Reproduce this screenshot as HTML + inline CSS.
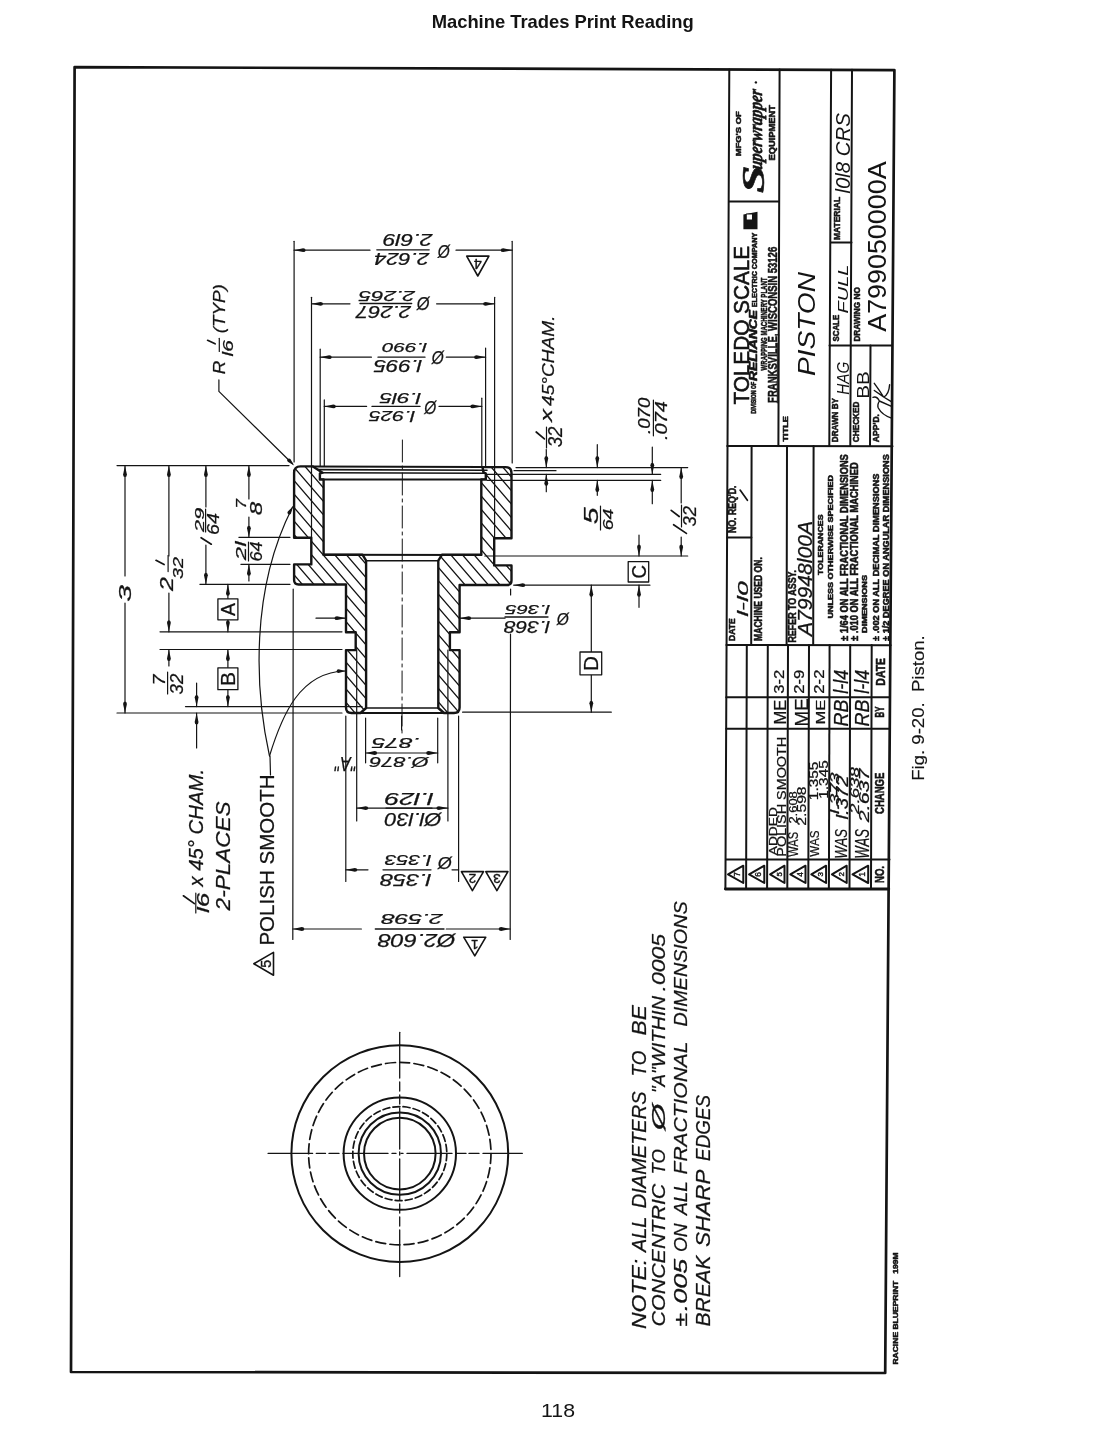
<!DOCTYPE html>
<html><head><meta charset="utf-8"><style>
html,body{margin:0;padding:0;background:#fff;}
svg{display:block;filter:grayscale(1);}
</style></head><body>
<svg width="1118" height="1452" viewBox="0 0 1118 1452" stroke="#141414" stroke-linecap="round" stroke-linejoin="round">
<rect width="1118" height="1452" fill="#fff" stroke="none"/>
<text transform="translate(431.7,27.8)" font-family="&quot;Liberation Sans&quot;, sans-serif" font-size="18.4" font-style="normal" font-weight="bold" textLength="262.0" lengthAdjust="spacing" fill="#141414" stroke="none" >Machine Trades Print Reading</text>
<text transform="translate(541.1,1417.2)" font-family="&quot;Liberation Sans&quot;, sans-serif" font-size="18.4" font-style="normal" font-weight="normal" textLength="34.0" lengthAdjust="spacingAndGlyphs" fill="#141414" stroke="none" >118</text>
<text transform="translate(924.2,780.8) rotate(-90)" font-family="&quot;Liberation Sans&quot;, sans-serif" font-size="16.1" font-style="normal" font-weight="normal" textLength="145.5" lengthAdjust="spacingAndGlyphs" fill="#141414" stroke="#141414" stroke-width="0.15" >Fig. 9-20.&#160; Piston.</text>
<path d="M74.6,67.1 L894.4,70.1 L885.2,1373 L71,1372 Z" fill="none" stroke-width="2.7" />
<line x1="729.3" y1="69.5" x2="725.4" y2="889.0" stroke-width="2.0" />
<line x1="779.6" y1="69.5" x2="778.4" y2="446.0" stroke-width="2.0" />
<line x1="831.1" y1="69.8" x2="829.3" y2="446.0" stroke-width="2.0" />
<line x1="852.0" y1="69.8" x2="850.3" y2="446.0" stroke-width="2.0" />
<line x1="870.5" y1="345.5" x2="870.0" y2="446.0" stroke-width="2.0" />
<line x1="729.0" y1="201.4" x2="779.0" y2="201.4" stroke-width="2.0" />
<line x1="831.0" y1="242.4" x2="851.5" y2="242.4" stroke-width="2.0" />
<line x1="829.5" y1="345.5" x2="891.5" y2="345.5" stroke-width="2.0" />
<line x1="727.2" y1="445.9" x2="892.5" y2="446.3" stroke-width="2.0" />
<line x1="751.6" y1="446.0" x2="751.2" y2="645.0" stroke-width="2.0" />
<line x1="787.0" y1="446.0" x2="786.6" y2="645.0" stroke-width="2.0" />
<line x1="813.6" y1="446.0" x2="813.2" y2="645.0" stroke-width="2.0" />
<line x1="727.2" y1="537.5" x2="751.4" y2="537.5" stroke-width="2.0" />
<line x1="726.4" y1="645.0" x2="890.7" y2="645.3" stroke-width="2.0" />
<line x1="746.8" y1="645.0" x2="746.1" y2="889.0" stroke-width="2.0" />
<line x1="767.8" y1="645.0" x2="767.1" y2="889.0" stroke-width="2.0" />
<line x1="788.0" y1="645.0" x2="787.3" y2="889.0" stroke-width="2.0" />
<line x1="809.0" y1="645.0" x2="808.3" y2="889.0" stroke-width="2.0" />
<line x1="829.6" y1="645.0" x2="828.9" y2="889.0" stroke-width="2.0" />
<line x1="850.2" y1="645.0" x2="849.5" y2="889.0" stroke-width="2.0" />
<line x1="871.7" y1="645.0" x2="871.0" y2="889.0" stroke-width="2.0" />
<line x1="726.2" y1="697.3" x2="889.5" y2="697.3" stroke-width="2.0" />
<line x1="726.2" y1="728.7" x2="889.5" y2="728.7" stroke-width="2.0" />
<line x1="726.2" y1="859.4" x2="889.5" y2="859.4" stroke-width="2.0" />
<line x1="725.4" y1="889.0" x2="888.8" y2="889.0" stroke-width="2.8" />
<defs><clipPath id="cl"><path d="M312.9,466.4 L300.5,466.4 Q294.1,466.4 294.1,472.8 L294.1,537.8 L311.3,537.8 L311.3,564.4 L294.1,564.4 L294.1,580 Q294.1,584.5 298.6,584.5 L346,584.5 L346,632.2 L355.7,632.2 L355.7,650.1 L346,650.1 L346,707.5 Q346,713 351.5,713 L360.5,713 L366.1,708 L366.1,560.7 L362.5,554.7 L323.6,554.7 L323.6,479.4 L319.9,479.4 L319.9,473.5 L322.6,472.7 Z"/></clipPath><clipPath id="cr"><path d="M482.5,467.1 L505.5,467.1 Q511.5,467.1 511.5,473 L511.5,538.3 L494.2,538.3 L494.2,565.4 L511.5,565.4 L511.5,580.5 Q511.5,585 507,585 L459.6,585 L459.6,632.2 L449.9,632.2 L449.9,650.1 L459.6,650.1 L459.6,707.5 Q459.6,713 454,713 L444,713 L438.3,708 L438.3,560.7 L442,554.7 L481.3,554.7 L481.3,479.4 L485.8,479.4 L485.8,473.5 L483.5,472.7 Z"/></clipPath></defs>
<path d="M-286.2,440 L-27.6,740 M-274.6,440 L-16.0,740 M-263.0,440 L-4.4,740 M-251.4,440 L7.2,740 M-239.8,440 L18.8,740 M-228.2,440 L30.4,740 M-216.6,440 L42.0,740 M-205.0,440 L53.6,740 M-193.4,440 L65.2,740 M-181.8,440 L76.8,740 M-170.2,440 L88.4,740 M-158.6,440 L100.0,740 M-147.0,440 L111.6,740 M-135.4,440 L123.2,740 M-123.8,440 L134.8,740 M-112.2,440 L146.4,740 M-100.6,440 L158.0,740 M-89.0,440 L169.6,740 M-77.4,440 L181.2,740 M-65.8,440 L192.8,740 M-54.2,440 L204.4,740 M-42.6,440 L216.0,740 M-31.0,440 L227.6,740 M-19.4,440 L239.2,740 M-7.8,440 L250.8,740 M3.8,440 L262.4,740 M15.4,440 L274.0,740 M27.0,440 L285.6,740 M38.6,440 L297.2,740 M50.2,440 L308.8,740 M61.8,440 L320.4,740 M73.4,440 L332.0,740 M85.0,440 L343.6,740 M96.6,440 L355.2,740 M108.2,440 L366.8,740 M119.8,440 L378.4,740 M131.4,440 L390.0,740 M143.0,440 L401.6,740 M154.6,440 L413.2,740 M166.2,440 L424.8,740 M177.8,440 L436.4,740 M189.4,440 L448.0,740 M201.0,440 L459.6,740 M212.6,440 L471.2,740 M224.2,440 L482.8,740 M235.8,440 L494.4,740 M247.4,440 L506.0,740 M259.0,440 L517.6,740 M270.6,440 L529.2,740 M282.2,440 L540.8,740 M293.8,440 L552.4,740 M305.4,440 L564.0,740 M317.0,440 L575.6,740 M328.6,440 L587.2,740 M340.2,440 L598.8,740 M351.8,440 L610.4,740 M363.4,440 L622.0,740 M375.0,440 L633.6,740 M386.6,440 L645.2,740 M398.2,440 L656.8,740 M409.8,440 L668.4,740 M421.4,440 L680.0,740 M433.0,440 L691.6,740 M444.6,440 L703.2,740 M456.2,440 L714.8,740 M467.8,440 L726.4,740 M479.4,440 L738.0,740 M491.0,440 L749.6,740 M502.6,440 L761.2,740 M514.2,440 L772.8,740 M525.8,440 L784.4,740 M537.4,440 L796.0,740 M549.0,440 L807.6,740 M560.6,440 L819.2,740 M572.2,440 L830.8,740 M583.8,440 L842.4,740 M595.4,440 L854.0,740 M607.0,440 L865.6,740 M618.6,440 L877.2,740 M630.2,440 L888.8,740" fill="none" stroke-width="1.3" clip-path="url(#cl)"/>
<path d="M-286.2,440 L-27.6,740 M-274.6,440 L-16.0,740 M-263.0,440 L-4.4,740 M-251.4,440 L7.2,740 M-239.8,440 L18.8,740 M-228.2,440 L30.4,740 M-216.6,440 L42.0,740 M-205.0,440 L53.6,740 M-193.4,440 L65.2,740 M-181.8,440 L76.8,740 M-170.2,440 L88.4,740 M-158.6,440 L100.0,740 M-147.0,440 L111.6,740 M-135.4,440 L123.2,740 M-123.8,440 L134.8,740 M-112.2,440 L146.4,740 M-100.6,440 L158.0,740 M-89.0,440 L169.6,740 M-77.4,440 L181.2,740 M-65.8,440 L192.8,740 M-54.2,440 L204.4,740 M-42.6,440 L216.0,740 M-31.0,440 L227.6,740 M-19.4,440 L239.2,740 M-7.8,440 L250.8,740 M3.8,440 L262.4,740 M15.4,440 L274.0,740 M27.0,440 L285.6,740 M38.6,440 L297.2,740 M50.2,440 L308.8,740 M61.8,440 L320.4,740 M73.4,440 L332.0,740 M85.0,440 L343.6,740 M96.6,440 L355.2,740 M108.2,440 L366.8,740 M119.8,440 L378.4,740 M131.4,440 L390.0,740 M143.0,440 L401.6,740 M154.6,440 L413.2,740 M166.2,440 L424.8,740 M177.8,440 L436.4,740 M189.4,440 L448.0,740 M201.0,440 L459.6,740 M212.6,440 L471.2,740 M224.2,440 L482.8,740 M235.8,440 L494.4,740 M247.4,440 L506.0,740 M259.0,440 L517.6,740 M270.6,440 L529.2,740 M282.2,440 L540.8,740 M293.8,440 L552.4,740 M305.4,440 L564.0,740 M317.0,440 L575.6,740 M328.6,440 L587.2,740 M340.2,440 L598.8,740 M351.8,440 L610.4,740 M363.4,440 L622.0,740 M375.0,440 L633.6,740 M386.6,440 L645.2,740 M398.2,440 L656.8,740 M409.8,440 L668.4,740 M421.4,440 L680.0,740 M433.0,440 L691.6,740 M444.6,440 L703.2,740 M456.2,440 L714.8,740 M467.8,440 L726.4,740 M479.4,440 L738.0,740 M491.0,440 L749.6,740 M502.6,440 L761.2,740 M514.2,440 L772.8,740 M525.8,440 L784.4,740 M537.4,440 L796.0,740 M549.0,440 L807.6,740 M560.6,440 L819.2,740 M572.2,440 L830.8,740 M583.8,440 L842.4,740 M595.4,440 L854.0,740 M607.0,440 L865.6,740 M618.6,440 L877.2,740 M630.2,440 L888.8,740" fill="none" stroke-width="1.3" clip-path="url(#cr)"/>
<path d="M312.9,466.4 L300.5,466.4 Q294.1,466.4 294.1,472.8 L294.1,537.8 L311.3,537.8 L311.3,564.4 L294.1,564.4 L294.1,580 Q294.1,584.5 298.6,584.5 L346,584.5 L346,632.2 L355.7,632.2 L355.7,650.1 L346,650.1 L346,707.5 Q346,713 351.5,713 L360.5,713 L366.1,708 L366.1,560.7 L362.5,554.7 L323.6,554.7 L323.6,479.4 L319.9,479.4 L319.9,473.5 L322.6,472.7 Z" fill="none" stroke-width="2.4" />
<path d="M482.5,467.1 L505.5,467.1 Q511.5,467.1 511.5,473 L511.5,538.3 L494.2,538.3 L494.2,565.4 L511.5,565.4 L511.5,580.5 Q511.5,585 507,585 L459.6,585 L459.6,632.2 L449.9,632.2 L449.9,650.1 L459.6,650.1 L459.6,707.5 Q459.6,713 454,713 L444,713 L438.3,708 L438.3,560.7 L442,554.7 L481.3,554.7 L481.3,479.4 L485.8,479.4 L485.8,473.5 L483.5,472.7 Z" fill="none" stroke-width="2.4" />
<line x1="312.9" y1="466.4" x2="482.5" y2="467.1" stroke-width="2.0" />
<line x1="318.0" y1="469.6" x2="487.0" y2="470.3" stroke-width="1.6" />
<line x1="322.6" y1="472.7" x2="483.5" y2="473.2" stroke-width="1.6" />
<line x1="319.9" y1="479.4" x2="485.8" y2="479.6" stroke-width="2.0" />
<line x1="323.6" y1="554.7" x2="481.3" y2="554.9" stroke-width="2.0" />
<line x1="366.1" y1="560.7" x2="438.3" y2="560.7" stroke-width="1.6" />
<line x1="366.1" y1="708.0" x2="438.3" y2="708.0" stroke-width="1.6" />
<line x1="351.5" y1="713.0" x2="454.0" y2="713.0" stroke-width="2.0" />
<line x1="402.4" y1="440" x2="402.0" y2="735" stroke-width="1.0" stroke-dasharray="22,4,3,4"/>
<line x1="294.1" y1="241.3" x2="294.1" y2="462.0" stroke-width="1.2" />
<line x1="512.2" y1="241.3" x2="512.2" y2="463.0" stroke-width="1.2" />
<line x1="311.5" y1="297.3" x2="311.5" y2="537.8" stroke-width="1.2" />
<line x1="494.6" y1="297.3" x2="494.6" y2="537.8" stroke-width="1.2" />
<line x1="320.2" y1="349.2" x2="320.2" y2="466.0" stroke-width="1.2" />
<line x1="485.6" y1="348.0" x2="485.6" y2="466.0" stroke-width="1.2" />
<line x1="324.3" y1="399.9" x2="324.3" y2="466.0" stroke-width="1.2" />
<line x1="481.8" y1="398.2" x2="481.8" y2="466.0" stroke-width="1.2" />
<line x1="294.1" y1="250.2" x2="370.0" y2="250.2" stroke-width="1.2" />
<line x1="456.0" y1="250.2" x2="512.2" y2="250.2" stroke-width="1.2" />
<path d="M294.1,250.2 L303.1,248.3 Q305.6,248.3 305.6,250.2 Q305.6,252.1 303.1,252.1 Z" fill="#141414" stroke="none"/>
<path d="M512.2,250.2 L503.2,252.1 Q500.7,252.1 500.7,250.2 Q500.7,248.3 503.2,248.3 Z" fill="#141414" stroke="none"/>
<line x1="311.5" y1="303.8" x2="350.0" y2="303.8" stroke-width="1.2" />
<line x1="436.6" y1="303.8" x2="494.6" y2="303.8" stroke-width="1.2" />
<path d="M311.5,303.8 L320.5,301.9 Q323.0,301.9 323.0,303.8 Q323.0,305.7 320.5,305.7 Z" fill="#141414" stroke="none"/>
<path d="M494.6,303.8 L485.6,305.7 Q483.1,305.7 483.1,303.8 Q483.1,301.9 485.6,301.9 Z" fill="#141414" stroke="none"/>
<line x1="320.2" y1="357.2" x2="371.4" y2="357.2" stroke-width="1.2" />
<line x1="446.3" y1="357.2" x2="485.6" y2="357.2" stroke-width="1.2" />
<path d="M320.2,357.2 L329.2,355.3 Q331.7,355.3 331.7,357.2 Q331.7,359.1 329.2,359.1 Z" fill="#141414" stroke="none"/>
<path d="M485.6,357.2 L476.6,359.1 Q474.1,359.1 474.1,357.2 Q474.1,355.3 476.6,355.3 Z" fill="#141414" stroke="none"/>
<line x1="324.3" y1="406.4" x2="366.6" y2="406.4" stroke-width="1.2" />
<line x1="439.0" y1="406.4" x2="481.8" y2="406.4" stroke-width="1.2" />
<path d="M324.3,406.4 L333.3,404.5 Q335.8,404.5 335.8,406.4 Q335.8,408.3 333.3,408.3 Z" fill="#141414" stroke="none"/>
<path d="M481.8,406.4 L472.8,408.3 Q470.3,408.3 470.3,406.4 Q470.3,404.5 472.8,404.5 Z" fill="#141414" stroke="none"/>
<line x1="117.0" y1="465.6" x2="289.0" y2="465.6" stroke-width="1.2" />
<line x1="238.9" y1="537.3" x2="290.0" y2="537.3" stroke-width="1.2" />
<line x1="240.9" y1="564.3" x2="290.0" y2="564.3" stroke-width="1.2" />
<line x1="199.9" y1="584.3" x2="290.0" y2="584.3" stroke-width="1.2" />
<line x1="160.0" y1="631.8" x2="342.0" y2="631.8" stroke-width="1.2" />
<line x1="160.0" y1="649.5" x2="342.0" y2="649.5" stroke-width="1.2" />
<line x1="185.5" y1="706.6" x2="362.0" y2="706.6" stroke-width="1.2" />
<line x1="117.0" y1="713.0" x2="342.0" y2="713.0" stroke-width="1.2" />
<line x1="125.0" y1="465.6" x2="125.0" y2="576.0" stroke-width="1.2" />
<line x1="125.0" y1="603.0" x2="125.0" y2="713.0" stroke-width="1.2" />
<path d="M125.0,465.6 L126.9,474.6 Q126.9,477.1 125.0,477.1 Q123.1,477.1 123.1,474.6 Z" fill="#141414" stroke="none"/>
<path d="M125.0,713.0 L123.1,704.0 Q123.1,701.5 125.0,701.5 Q126.9,701.5 126.9,704.0 Z" fill="#141414" stroke="none"/>
<line x1="168.9" y1="465.6" x2="168.9" y2="556.0" stroke-width="1.2" />
<line x1="168.9" y1="593.0" x2="168.9" y2="631.8" stroke-width="1.2" />
<path d="M168.9,465.6 L170.8,474.6 Q170.8,477.1 168.9,477.1 Q167.0,477.1 167.0,474.6 Z" fill="#141414" stroke="none"/>
<path d="M168.9,631.8 L167.0,622.8 Q167.0,620.3 168.9,620.3 Q170.8,620.3 170.8,622.8 Z" fill="#141414" stroke="none"/>
<line x1="205.9" y1="465.6" x2="205.9" y2="507.0" stroke-width="1.2" />
<line x1="205.9" y1="545.0" x2="205.9" y2="584.3" stroke-width="1.2" />
<path d="M205.9,465.6 L207.8,474.6 Q207.8,477.1 205.9,477.1 Q204.0,477.1 204.0,474.6 Z" fill="#141414" stroke="none"/>
<path d="M205.9,584.3 L204.0,575.3 Q204.0,572.8 205.9,572.8 Q207.8,572.8 207.8,575.3 Z" fill="#141414" stroke="none"/>
<line x1="248.9" y1="465.6" x2="248.9" y2="499.0" stroke-width="1.2" />
<line x1="248.9" y1="517.0" x2="248.9" y2="537.3" stroke-width="1.2" />
<path d="M248.9,465.6 L250.8,474.6 Q250.8,477.1 248.9,477.1 Q247.0,477.1 247.0,474.6 Z" fill="#141414" stroke="none"/>
<path d="M248.9,537.3 L247.0,528.3 Q247.0,525.8 248.9,525.8 Q250.8,525.8 250.8,528.3 Z" fill="#141414" stroke="none"/>
<line x1="248.9" y1="564.3" x2="248.9" y2="581.0" stroke-width="1.2" />
<path d="M248.9,564.3 L250.8,573.3 Q250.8,575.8 248.9,575.8 Q247.0,575.8 247.0,573.3 Z" fill="#141414" stroke="none"/>
<line x1="227.9" y1="584.3" x2="227.9" y2="598.8" stroke-width="1.2" />
<line x1="227.9" y1="619.8" x2="227.9" y2="631.8" stroke-width="1.2" />
<path d="M227.9,584.3 L229.8,593.3 Q229.8,595.8 227.9,595.8 Q226.0,595.8 226.0,593.3 Z" fill="#141414" stroke="none"/>
<path d="M227.9,631.8 L226.0,622.8 Q226.0,620.3 227.9,620.3 Q229.8,620.3 229.8,622.8 Z" fill="#141414" stroke="none"/>
<line x1="227.9" y1="649.5" x2="227.9" y2="667.8" stroke-width="1.2" />
<line x1="227.9" y1="689.7" x2="227.9" y2="706.6" stroke-width="1.2" />
<path d="M227.9,649.5 L229.8,658.5 Q229.8,661.0 227.9,661.0 Q226.0,661.0 226.0,658.5 Z" fill="#141414" stroke="none"/>
<path d="M227.9,706.6 L226.0,697.6 Q226.0,695.1 227.9,695.1 Q229.8,695.1 229.8,697.6 Z" fill="#141414" stroke="none"/>
<line x1="168.9" y1="649.5" x2="168.9" y2="666.0" stroke-width="1.2" />
<path d="M168.9,649.5 L170.8,658.5 Q170.8,661.0 168.9,661.0 Q167.0,661.0 167.0,658.5 Z" fill="#141414" stroke="none"/>
<line x1="196.6" y1="683.0" x2="196.6" y2="706.6" stroke-width="1.2" />
<path d="M196.6,706.6 L194.7,697.6 Q194.7,695.1 196.6,695.1 Q198.5,695.1 198.5,697.6 Z" fill="#141414" stroke="none"/>
<line x1="196.6" y1="713.0" x2="196.6" y2="748.0" stroke-width="1.2" />
<path d="M196.6,713.0 L198.5,722.0 Q198.5,724.5 196.6,724.5 Q194.7,724.5 194.7,722.0 Z" fill="#141414" stroke="none"/>
<rect x="217.9" y="598.8" width="20.0" height="21.0" fill="#fff" stroke-width="1.3"/>
<rect x="217.9" y="667.8" width="20.0" height="21.9" fill="#fff" stroke-width="1.3"/>
<line x1="293.2" y1="589.0" x2="292.8" y2="939.5" stroke-width="1.2" />
<line x1="510.6" y1="589.0" x2="510.6" y2="595.0" stroke-width="1.2" />
<line x1="510.5" y1="634.0" x2="510.2" y2="939.5" stroke-width="1.2" />
<line x1="345.8" y1="716.0" x2="345.8" y2="881.4" stroke-width="1.2" />
<line x1="458.6" y1="716.0" x2="458.6" y2="881.4" stroke-width="1.2" />
<line x1="356.7" y1="650.1" x2="356.7" y2="821.0" stroke-width="1.2" />
<line x1="447.9" y1="650.1" x2="447.9" y2="821.0" stroke-width="1.2" />
<line x1="365.6" y1="718.0" x2="365.6" y2="762.8" stroke-width="1.2" />
<line x1="437.7" y1="718.0" x2="437.7" y2="762.8" stroke-width="1.2" />
<line x1="401.6" y1="716.0" x2="401.6" y2="730.0" stroke-width="1.2" />
<line x1="365.6" y1="753.0" x2="437.7" y2="753.0" stroke-width="1.2" />
<path d="M365.6,753.0 L374.6,751.1 Q377.1,751.1 377.1,753.0 Q377.1,754.9 374.6,754.9 Z" fill="#141414" stroke="none"/>
<path d="M437.7,753.0 L428.7,754.9 Q426.2,754.9 426.2,753.0 Q426.2,751.1 428.7,751.1 Z" fill="#141414" stroke="none"/>
<line x1="356.7" y1="808.1" x2="447.9" y2="808.1" stroke-width="1.2" />
<path d="M356.7,808.1 L365.7,806.2 Q368.2,806.2 368.2,808.1 Q368.2,810.0 365.7,810.0 Z" fill="#141414" stroke="none"/>
<path d="M447.9,808.1 L438.9,810.0 Q436.4,810.0 436.4,808.1 Q436.4,806.2 438.9,806.2 Z" fill="#141414" stroke="none"/>
<line x1="345.8" y1="869.8" x2="368.0" y2="869.8" stroke-width="1.2" />
<line x1="452.0" y1="869.8" x2="458.6" y2="869.8" stroke-width="1.2" />
<path d="M345.8,869.8 L354.8,867.9 Q357.3,867.9 357.3,869.8 Q357.3,871.7 354.8,871.7 Z" fill="#141414" stroke="none"/>
<line x1="292.8" y1="929.0" x2="361.4" y2="929.0" stroke-width="1.2" />
<line x1="446.3" y1="929.0" x2="510.2" y2="929.0" stroke-width="1.2" />
<path d="M292.8,929.0 L301.8,927.1 Q304.3,927.1 304.3,929.0 Q304.3,930.9 301.8,930.9 Z" fill="#141414" stroke="none"/>
<path d="M510.2,929.0 L501.2,930.9 Q498.7,930.9 498.7,929.0 Q498.7,927.1 501.2,927.1 Z" fill="#141414" stroke="none"/>
<line x1="516.0" y1="467.6" x2="687.7" y2="467.6" stroke-width="1.2" />
<line x1="514.0" y1="470.7" x2="556.0" y2="470.7" stroke-width="1.2" />
<line x1="487.0" y1="474.3" x2="660.7" y2="474.3" stroke-width="1.2" />
<line x1="487.0" y1="480.4" x2="660.7" y2="480.4" stroke-width="1.2" />
<line x1="484.8" y1="556.0" x2="687.7" y2="556.0" stroke-width="1.2" />
<line x1="513.7" y1="585.2" x2="649.9" y2="585.2" stroke-width="1.2" />
<path d="M513.7,585.2 L522.7,583.3 Q525.2,583.3 525.2,585.2 Q525.2,587.1 522.7,587.1 Z" fill="#141414" stroke="none"/>
<line x1="462.6" y1="712.2" x2="611.3" y2="712.2" stroke-width="1.2" />
<line x1="546.3" y1="449.5" x2="546.3" y2="467.6" stroke-width="1.2" />
<path d="M546.3,467.6 L544.4,458.6 Q544.4,456.1 546.3,456.1 Q548.2,456.1 548.2,458.6 Z" fill="#141414" stroke="none"/>
<line x1="546.3" y1="474.3" x2="546.3" y2="491.7" stroke-width="1.2" />
<path d="M546.3,474.3 L548.2,483.3 Q548.2,485.8 546.3,485.8 Q544.4,485.8 544.4,483.3 Z" fill="#141414" stroke="none"/>
<line x1="597.3" y1="444.7" x2="597.3" y2="467.6" stroke-width="1.2" />
<path d="M597.3,467.6 L595.4,458.6 Q595.4,456.1 597.3,456.1 Q599.2,456.1 599.2,458.6 Z" fill="#141414" stroke="none"/>
<line x1="597.3" y1="480.4" x2="597.3" y2="495.3" stroke-width="1.2" />
<path d="M597.3,480.4 L599.2,489.4 Q599.2,491.9 597.3,491.9 Q595.4,491.9 595.4,489.4 Z" fill="#141414" stroke="none"/>
<line x1="652.3" y1="447.0" x2="652.3" y2="474.3" stroke-width="1.2" />
<path d="M652.3,474.3 L650.4,465.3 Q650.4,462.8 652.3,462.8 Q654.2,462.8 654.2,465.3 Z" fill="#141414" stroke="none"/>
<line x1="652.3" y1="480.4" x2="652.3" y2="503.7" stroke-width="1.2" />
<path d="M652.3,480.4 L654.2,489.4 Q654.2,491.9 652.3,491.9 Q650.4,491.9 650.4,489.4 Z" fill="#141414" stroke="none"/>
<line x1="681.2" y1="467.6" x2="681.2" y2="503.0" stroke-width="1.2" />
<line x1="681.2" y1="537.0" x2="681.2" y2="556.0" stroke-width="1.2" />
<path d="M681.2,467.6 L683.1,476.6 Q683.1,479.1 681.2,479.1 Q679.3,479.1 679.3,476.6 Z" fill="#141414" stroke="none"/>
<path d="M681.2,556.0 L679.3,547.0 Q679.3,544.5 681.2,544.5 Q683.1,544.5 683.1,547.0 Z" fill="#141414" stroke="none"/>
<line x1="639.0" y1="535.0" x2="639.0" y2="556.0" stroke-width="1.2" />
<path d="M639.0,556.0 L637.1,547.0 Q637.1,544.5 639.0,544.5 Q640.9,544.5 640.9,547.0 Z" fill="#141414" stroke="none"/>
<line x1="639.0" y1="585.2" x2="639.0" y2="607.3" stroke-width="1.2" />
<path d="M639.0,585.2 L640.9,594.2 Q640.9,596.7 639.0,596.7 Q637.1,596.7 637.1,594.2 Z" fill="#141414" stroke="none"/>
<rect x="628.2" y="561.6" width="20.5" height="20.4" fill="#fff" stroke-width="1.3"/>
<line x1="591.3" y1="585.2" x2="591.3" y2="652.0" stroke-width="1.2" />
<line x1="591.3" y1="674.8" x2="591.3" y2="712.2" stroke-width="1.2" />
<path d="M591.3,585.2 L593.2,594.2 Q593.2,596.7 591.3,596.7 Q589.4,596.7 589.4,594.2 Z" fill="#141414" stroke="none"/>
<path d="M591.3,712.2 L589.4,703.2 Q589.4,700.7 591.3,700.7 Q593.2,700.7 593.2,703.2 Z" fill="#141414" stroke="none"/>
<rect x="580.0" y="652.0" width="21.7" height="22.8" fill="#fff" stroke-width="1.3"/>
<polyline points="218.9,379.9 218.9,391.4 292.5,463.8" fill="none" stroke-width="1.2" />
<path d="M294.1,465.4 L287.8,461.8 Q286.4,460.4 287.7,459.1 Q289.0,457.7 290.4,459.1 Z" fill="#141414" stroke="none"/>
<text transform="translate(432.5,234.4) rotate(180)" font-family="&quot;Liberation Sans&quot;, sans-serif" font-size="16.3" font-style="italic" font-weight="normal" textLength="49.6" lengthAdjust="spacingAndGlyphs" fill="#141414" stroke="#141414" stroke-width="0.25" >2.6l9</text>
<text transform="translate(429.2,252.5) rotate(180)" font-family="&quot;Liberation Sans&quot;, sans-serif" font-size="16.3" font-style="italic" font-weight="normal" textLength="55.0" lengthAdjust="spacingAndGlyphs" fill="#141414" stroke="#141414" stroke-width="0.25" >2.624</text>
<text transform="translate(450.0,244.5) rotate(180)" font-family="&quot;Liberation Sans&quot;, sans-serif" font-size="18.6" font-style="italic" font-weight="normal" textLength="12.1" lengthAdjust="spacingAndGlyphs" fill="#141414" stroke="#141414" stroke-width="0.25" >Ø</text>
<line x1="376.8" y1="249.8" x2="429.2" y2="249.8" stroke-width="1.3" />
<polygon points="466.7,256.1 488.9,256.1 477.8,276.0" fill="none" stroke-width="1.6" />
<text transform="translate(477.8,263.7) rotate(180)" font-family="&quot;Liberation Sans&quot;, sans-serif" font-size="14.2" text-anchor="middle" dy="5.0" fill="#141414" stroke="#141414" stroke-width="0.4">4</text>
<text transform="translate(415.1,290.7) rotate(180)" font-family="&quot;Liberation Sans&quot;, sans-serif" font-size="15.4" font-style="italic" font-weight="normal" textLength="56.4" lengthAdjust="spacingAndGlyphs" fill="#141414" stroke="#141414" stroke-width="0.25" >2.265</text>
<text transform="translate(411.0,306.2) rotate(180)" font-family="&quot;Liberation Sans&quot;, sans-serif" font-size="17.3" font-style="italic" font-weight="normal" textLength="55.0" lengthAdjust="spacingAndGlyphs" fill="#141414" stroke="#141414" stroke-width="0.25" >2.267</text>
<text transform="translate(429.8,296.5) rotate(180)" font-family="&quot;Liberation Sans&quot;, sans-serif" font-size="17.9" font-style="italic" font-weight="normal" textLength="12.8" lengthAdjust="spacingAndGlyphs" fill="#141414" stroke="#141414" stroke-width="0.25" >Ø</text>
<line x1="360.0" y1="303.5" x2="411.7" y2="303.5" stroke-width="1.3" />
<text transform="translate(427.0,343.2) rotate(180)" font-family="&quot;Liberation Sans&quot;, sans-serif" font-size="13.7" font-style="italic" font-weight="normal" textLength="44.7" lengthAdjust="spacingAndGlyphs" fill="#141414" stroke="#141414" stroke-width="0.25" >l.990</text>
<text transform="translate(422.1,360.0) rotate(180)" font-family="&quot;Liberation Sans&quot;, sans-serif" font-size="15.7" font-style="italic" font-weight="normal" textLength="48.3" lengthAdjust="spacingAndGlyphs" fill="#141414" stroke="#141414" stroke-width="0.25" >l.995</text>
<text transform="translate(443.9,351.0) rotate(180)" font-family="&quot;Liberation Sans&quot;, sans-serif" font-size="17.9" font-style="italic" font-weight="normal" textLength="12.1" lengthAdjust="spacingAndGlyphs" fill="#141414" stroke="#141414" stroke-width="0.25" >Ø</text>
<line x1="378.0" y1="357.2" x2="425.0" y2="357.2" stroke-width="1.3" />
<text transform="translate(421.0,392.7) rotate(180)" font-family="&quot;Liberation Sans&quot;, sans-serif" font-size="15.4" font-style="italic" font-weight="normal" textLength="41.1" lengthAdjust="spacingAndGlyphs" fill="#141414" stroke="#141414" stroke-width="0.25" >l.9l5</text>
<text transform="translate(414.9,410.8) rotate(180)" font-family="&quot;Liberation Sans&quot;, sans-serif" font-size="15.4" font-style="italic" font-weight="normal" textLength="45.9" lengthAdjust="spacingAndGlyphs" fill="#141414" stroke="#141414" stroke-width="0.25" >l.925</text>
<text transform="translate(436.6,400.5) rotate(180)" font-family="&quot;Liberation Sans&quot;, sans-serif" font-size="17.6" font-style="italic" font-weight="normal" textLength="12.0" lengthAdjust="spacingAndGlyphs" fill="#141414" stroke="#141414" stroke-width="0.25" >Ø</text>
<line x1="372.0" y1="406.4" x2="420.0" y2="406.4" stroke-width="1.3" />
<text transform="translate(419.5,738.4) rotate(180)" font-family="&quot;Liberation Sans&quot;, sans-serif" font-size="14.9" font-style="italic" font-weight="normal" textLength="47.6" lengthAdjust="spacingAndGlyphs" fill="#141414" stroke="#141414" stroke-width="0.25" >.875</text>
<text transform="translate(428.8,757.0) rotate(180)" font-family="&quot;Liberation Sans&quot;, sans-serif" font-size="14.9" font-style="italic" font-weight="normal" textLength="59.3" lengthAdjust="spacingAndGlyphs" fill="#141414" stroke="#141414" stroke-width="0.25" >Ø.876</text>
<text transform="translate(356.7,757.0) rotate(180)" font-family="&quot;Liberation Sans&quot;, sans-serif" font-size="20.0" font-style="italic" font-weight="normal" textLength="22.0" lengthAdjust="spacingAndGlyphs" fill="#141414" stroke="#141414" stroke-width="0.25" >"A"</text>
<text transform="translate(433.5,793.0) rotate(180)" font-family="&quot;Liberation Sans&quot;, sans-serif" font-size="16.7" font-style="italic" font-weight="normal" textLength="48.8" lengthAdjust="spacingAndGlyphs" fill="#141414" stroke="#141414" stroke-width="0.25" >l.l29</text>
<text transform="translate(441.6,812.8) rotate(180)" font-family="&quot;Liberation Sans&quot;, sans-serif" font-size="18.3" font-style="italic" font-weight="normal" textLength="56.9" lengthAdjust="spacingAndGlyphs" fill="#141414" stroke="#141414" stroke-width="0.25" >Øl.l30</text>
<line x1="386.0" y1="808.1" x2="432.0" y2="808.1" stroke-width="1.3" />
<text transform="translate(431.2,854.7) rotate(180)" font-family="&quot;Liberation Sans&quot;, sans-serif" font-size="14.9" font-style="italic" font-weight="normal" textLength="46.5" lengthAdjust="spacingAndGlyphs" fill="#141414" stroke="#141414" stroke-width="0.25" >l.353</text>
<text transform="translate(431.2,874.4) rotate(180)" font-family="&quot;Liberation Sans&quot;, sans-serif" font-size="16.6" font-style="italic" font-weight="normal" textLength="51.2" lengthAdjust="spacingAndGlyphs" fill="#141414" stroke="#141414" stroke-width="0.25" >l.358</text>
<text transform="translate(452.0,857.0) rotate(180)" font-family="&quot;Liberation Sans&quot;, sans-serif" font-size="17.1" font-style="italic" font-weight="normal" textLength="14.0" lengthAdjust="spacingAndGlyphs" fill="#141414" stroke="#141414" stroke-width="0.25" >Ø</text>
<line x1="383.0" y1="869.8" x2="431.0" y2="869.8" stroke-width="1.3" />
<polygon points="461.4,871.6 483.5,871.6 472.4,890.7" fill="none" stroke-width="1.6" />
<text transform="translate(472.4,878.9) rotate(180)" font-family="&quot;Liberation Sans&quot;, sans-serif" font-size="13.6" text-anchor="middle" dy="4.8" fill="#141414" stroke="#141414" stroke-width="0.4">2</text>
<polygon points="485.8,871.6 507.9,871.6 496.9,890.7" fill="none" stroke-width="1.6" />
<text transform="translate(496.9,878.9) rotate(180)" font-family="&quot;Liberation Sans&quot;, sans-serif" font-size="13.6" text-anchor="middle" dy="4.8" fill="#141414" stroke="#141414" stroke-width="0.4">3</text>
<text transform="translate(442.8,914.0) rotate(180)" font-family="&quot;Liberation Sans&quot;, sans-serif" font-size="14.9" font-style="italic" font-weight="normal" textLength="61.6" lengthAdjust="spacingAndGlyphs" fill="#141414" stroke="#141414" stroke-width="0.25" >2.598</text>
<text transform="translate(455.6,933.7) rotate(180)" font-family="&quot;Liberation Sans&quot;, sans-serif" font-size="18.3" font-style="italic" font-weight="normal" textLength="77.9" lengthAdjust="spacingAndGlyphs" fill="#141414" stroke="#141414" stroke-width="0.25" >Ø2.608</text>
<line x1="375.3" y1="929.0" x2="444.0" y2="929.0" stroke-width="1.3" />
<polygon points="463.7,937.2 485.8,937.2 474.8,955.8" fill="none" stroke-width="1.6" />
<text transform="translate(474.8,944.3) rotate(180)" font-family="&quot;Liberation Sans&quot;, sans-serif" font-size="13.3" text-anchor="middle" dy="4.6" fill="#141414" stroke="#141414" stroke-width="0.4">1</text>
<text transform="translate(549.9,605.0) rotate(180)" font-family="&quot;Liberation Sans&quot;, sans-serif" font-size="13.7" font-style="italic" font-weight="normal" textLength="44.6" lengthAdjust="spacingAndGlyphs" fill="#141414" stroke="#141414" stroke-width="0.25" >l.365</text>
<text transform="translate(549.9,620.6) rotate(180)" font-family="&quot;Liberation Sans&quot;, sans-serif" font-size="17.3" font-style="italic" font-weight="normal" textLength="45.9" lengthAdjust="spacingAndGlyphs" fill="#141414" stroke="#141414" stroke-width="0.25" >l.368</text>
<text transform="translate(569.0,613.4) rotate(180)" font-family="&quot;Liberation Sans&quot;, sans-serif" font-size="17.1" font-style="italic" font-weight="normal" textLength="12.0" lengthAdjust="spacingAndGlyphs" fill="#141414" stroke="#141414" stroke-width="0.25" >Ø</text>
<line x1="505.0" y1="617.0" x2="548.0" y2="617.0" stroke-width="1.3" />
<line x1="316.0" y1="618.2" x2="346.0" y2="618.2" stroke-width="1.2" />
<path d="M346.0,618.2 L337.0,620.1 Q334.5,620.1 334.5,618.2 Q334.5,616.3 337.0,616.3 Z" fill="#141414" stroke="none"/>
<line x1="459.6" y1="618.2" x2="505.0" y2="618.2" stroke-width="1.2" />
<path d="M459.6,618.2 L468.6,616.3 Q471.1,616.3 471.1,618.2 Q471.1,620.1 468.6,620.1 Z" fill="#141414" stroke="none"/>
<line x1="544.4" y1="438.9" x2="536.2" y2="432.0" stroke-width="1.7" />
<text transform="translate(561.5,447.3) rotate(-90)" font-family="&quot;Liberation Sans&quot;, sans-serif" font-size="19.6" font-style="italic" font-weight="normal" textLength="20.8" lengthAdjust="spacingAndGlyphs" fill="#141414" stroke="#141414" stroke-width="0.25" >32</text>
<line x1="546.5" y1="427.0" x2="546.5" y2="448.0" stroke-width="1.2" />
<text transform="translate(552.1,421.7) rotate(-90)" font-family="&quot;Liberation Sans&quot;, sans-serif" font-size="16.5" font-style="italic" font-weight="normal" textLength="12.7" lengthAdjust="spacingAndGlyphs" fill="#141414" stroke="#141414" stroke-width="0.25" >x</text>
<text transform="translate(554.3,405.9) rotate(-90)" font-family="&quot;Liberation Sans&quot;, sans-serif" font-size="16.4" font-style="italic" font-weight="normal" textLength="90.5" lengthAdjust="spacingAndGlyphs" fill="#141414" stroke="#141414" stroke-width="0.25" >45°CHAM.</text>
<text transform="translate(598.0,524.2) rotate(-90)" font-family="&quot;Liberation Sans&quot;, sans-serif" font-size="20.6" font-style="italic" font-weight="normal" textLength="16.9" lengthAdjust="spacingAndGlyphs" fill="#141414" stroke="#141414" stroke-width="0.25" >5</text>
<line x1="600.5" y1="506.0" x2="600.5" y2="530.0" stroke-width="1.2" />
<text transform="translate(612.5,530.2) rotate(-90)" font-family="&quot;Liberation Sans&quot;, sans-serif" font-size="15.4" font-style="italic" font-weight="normal" textLength="21.6" lengthAdjust="spacingAndGlyphs" fill="#141414" stroke="#141414" stroke-width="0.25" >64</text>
<text transform="translate(650.3,434.0) rotate(-90)" font-family="&quot;Liberation Sans&quot;, sans-serif" font-size="15.9" font-style="italic" font-weight="normal" textLength="36.3" lengthAdjust="spacingAndGlyphs" fill="#141414" stroke="#141414" stroke-width="0.25" >.070</text>
<line x1="653.4" y1="400.1" x2="653.4" y2="435.8" stroke-width="1.2" />
<text transform="translate(667.1,440.0) rotate(-90)" font-family="&quot;Liberation Sans&quot;, sans-serif" font-size="16.9" font-style="italic" font-weight="normal" textLength="38.9" lengthAdjust="spacingAndGlyphs" fill="#141414" stroke="#141414" stroke-width="0.25" >.074</text>
<line x1="686.4" y1="533.4" x2="673.6" y2="524.7" stroke-width="1.7" />
<line x1="679.2" y1="516.5" x2="671.2" y2="510.3" stroke-width="1.7" />
<line x1="681.5" y1="505.0" x2="681.5" y2="527.0" stroke-width="1.2" />
<text transform="translate(695.7,526.6) rotate(-90)" font-family="&quot;Liberation Sans&quot;, sans-serif" font-size="19.0" font-style="italic" font-weight="normal" textLength="20.5" lengthAdjust="spacingAndGlyphs" fill="#141414" stroke="#141414" stroke-width="0.25" >32</text>
<text transform="translate(235.0,616.0) rotate(-90)" font-family="&quot;Liberation Sans&quot;, sans-serif" font-size="20.0" font-style="normal" font-weight="normal" textLength="13.0" lengthAdjust="spacingAndGlyphs" fill="#141414" stroke="#141414" stroke-width="0.25" >A</text>
<text transform="translate(235.0,686.0) rotate(-90)" font-family="&quot;Liberation Sans&quot;, sans-serif" font-size="20.0" font-style="normal" font-weight="normal" textLength="14.0" lengthAdjust="spacingAndGlyphs" fill="#141414" stroke="#141414" stroke-width="0.25" >B</text>
<text transform="translate(645.5,578.5) rotate(-90)" font-family="&quot;Liberation Sans&quot;, sans-serif" font-size="20.0" font-style="normal" font-weight="normal" textLength="13.5" lengthAdjust="spacingAndGlyphs" fill="#141414" stroke="#141414" stroke-width="0.25" >C</text>
<text transform="translate(598.0,671.0) rotate(-90)" font-family="&quot;Liberation Sans&quot;, sans-serif" font-size="20.7" font-style="normal" font-weight="normal" textLength="15.0" lengthAdjust="spacingAndGlyphs" fill="#141414" stroke="#141414" stroke-width="0.25" >D</text>
<text transform="translate(131.1,601.7) rotate(-90)" font-family="&quot;Liberation Sans&quot;, sans-serif" font-size="15.9" font-style="italic" font-weight="normal" textLength="16.7" lengthAdjust="spacingAndGlyphs" fill="#141414" stroke="#141414" stroke-width="0.25" >3</text>
<text transform="translate(173.4,590.9) rotate(-90)" font-family="&quot;Liberation Sans&quot;, sans-serif" font-size="17.6" font-style="italic" font-weight="normal" textLength="14.0" lengthAdjust="spacingAndGlyphs" fill="#141414" stroke="#141414" stroke-width="0.25" >2</text>
<line x1="164.1" y1="564.6" x2="156.0" y2="560.3" stroke-width="1.7" />
<line x1="168.1" y1="555.5" x2="168.1" y2="571.6" stroke-width="1.2" />
<text transform="translate(182.6,579.1) rotate(-90)" font-family="&quot;Liberation Sans&quot;, sans-serif" font-size="14.6" font-style="italic" font-weight="normal" textLength="22.0" lengthAdjust="spacingAndGlyphs" fill="#141414" stroke="#141414" stroke-width="0.25" >32</text>
<line x1="211.3" y1="544.2" x2="201.1" y2="537.7" stroke-width="1.7" />
<text transform="translate(203.5,531.9) rotate(-90)" font-family="&quot;Liberation Sans&quot;, sans-serif" font-size="13.0" font-style="italic" font-weight="normal" textLength="24.2" lengthAdjust="spacingAndGlyphs" fill="#141414" stroke="#141414" stroke-width="0.25" >29</text>
<line x1="205.6" y1="509.0" x2="205.6" y2="532.0" stroke-width="1.2" />
<text transform="translate(219.1,535.1) rotate(-90)" font-family="&quot;Liberation Sans&quot;, sans-serif" font-size="16.9" font-style="italic" font-weight="normal" textLength="22.0" lengthAdjust="spacingAndGlyphs" fill="#141414" stroke="#141414" stroke-width="0.25" >64</text>
<text transform="translate(246.4,508.8) rotate(-90)" font-family="&quot;Liberation Sans&quot;, sans-serif" font-size="15.3" font-style="italic" font-weight="normal" textLength="9.7" lengthAdjust="spacingAndGlyphs" fill="#141414" stroke="#141414" stroke-width="0.25" >7</text>
<text transform="translate(261.5,515.2) rotate(-90)" font-family="&quot;Liberation Sans&quot;, sans-serif" font-size="17.0" font-style="italic" font-weight="normal" textLength="13.4" lengthAdjust="spacingAndGlyphs" fill="#141414" stroke="#141414" stroke-width="0.25" >8</text>
<text transform="translate(246.4,560.3) rotate(-90)" font-family="&quot;Liberation Sans&quot;, sans-serif" font-size="15.3" font-style="italic" font-weight="normal" textLength="18.8" lengthAdjust="spacingAndGlyphs" fill="#141414" stroke="#141414" stroke-width="0.25" >2l</text>
<text transform="translate(261.5,561.4) rotate(-90)" font-family="&quot;Liberation Sans&quot;, sans-serif" font-size="17.0" font-style="italic" font-weight="normal" textLength="19.9" lengthAdjust="spacingAndGlyphs" fill="#141414" stroke="#141414" stroke-width="0.25" >64</text>
<line x1="248.5" y1="542.0" x2="248.5" y2="561.0" stroke-width="1.2" />
<text transform="translate(165.2,685.6) rotate(-90)" font-family="&quot;Liberation Sans&quot;, sans-serif" font-size="15.9" font-style="italic" font-weight="normal" textLength="11.0" lengthAdjust="spacingAndGlyphs" fill="#141414" stroke="#141414" stroke-width="0.25" >7</text>
<line x1="167.6" y1="672.0" x2="167.6" y2="694.0" stroke-width="1.2" />
<text transform="translate(182.6,694.4) rotate(-90)" font-family="&quot;Liberation Sans&quot;, sans-serif" font-size="18.0" font-style="italic" font-weight="normal" textLength="20.6" lengthAdjust="spacingAndGlyphs" fill="#141414" stroke="#141414" stroke-width="0.25" >32</text>
<text transform="translate(225.0,374.2) rotate(-90)" font-family="&quot;Liberation Sans&quot;, sans-serif" font-size="17.3" font-style="italic" font-weight="normal" textLength="13.6" lengthAdjust="spacingAndGlyphs" fill="#141414" stroke="#141414" stroke-width="0.25" >R</text>
<line x1="215.1" y1="343.8" x2="207.6" y2="340.3" stroke-width="1.7" />
<line x1="219.3" y1="338.3" x2="219.3" y2="351.5" stroke-width="1.2" />
<text transform="translate(233.3,356.4) rotate(-90)" font-family="&quot;Liberation Sans&quot;, sans-serif" font-size="15.1" font-style="italic" font-weight="normal" textLength="16.2" lengthAdjust="spacingAndGlyphs" fill="#141414" stroke="#141414" stroke-width="0.25" >l6</text>
<text transform="translate(225.4,333.3) rotate(-90)" font-family="&quot;Liberation Sans&quot;, sans-serif" font-size="16.9" font-style="italic" font-weight="normal" textLength="49.2" lengthAdjust="spacingAndGlyphs" fill="#141414" stroke="#141414" stroke-width="0.25" >(TYP)</text>
<line x1="194.4" y1="903.6" x2="183.4" y2="895.8" stroke-width="1.7" />
<line x1="195.8" y1="893.0" x2="195.8" y2="913.0" stroke-width="1.2" />
<text transform="translate(208.5,912.9) rotate(-90)" font-family="&quot;Liberation Sans&quot;, sans-serif" font-size="16.4" font-style="italic" font-weight="normal" textLength="20.1" lengthAdjust="spacingAndGlyphs" fill="#141414" stroke="#141414" stroke-width="0.25" >l6</text>
<text transform="translate(202.7,886.6) rotate(-90)" font-family="&quot;Liberation Sans&quot;, sans-serif" font-size="19.7" font-style="italic" font-weight="normal" textLength="117.7" lengthAdjust="spacingAndGlyphs" fill="#141414" stroke="#141414" stroke-width="0.25" >x 45° CHAM.</text>
<text transform="translate(230.2,910.4) rotate(-90)" font-family="&quot;Liberation Sans&quot;, sans-serif" font-size="19.6" font-style="italic" font-weight="normal" textLength="109.0" lengthAdjust="spacingAndGlyphs" fill="#141414" stroke="#141414" stroke-width="0.25" >2-PLACES</text>
<text transform="translate(274.2,945.6) rotate(-90)" font-family="&quot;Liberation Sans&quot;, sans-serif" font-size="20.6" font-style="normal" font-weight="normal" textLength="171.2" lengthAdjust="spacingAndGlyphs" fill="#141414" stroke="#141414" stroke-width="0.25" >POLISH SMOOTH</text>
<polygon points="273.5,952.4 273.5,975.2 253.8,963.8" fill="none" stroke-width="1.6" />
<text transform="translate(266.0,963.8) rotate(-90)" font-family="&quot;Liberation Sans&quot;, sans-serif" font-size="14.1" text-anchor="middle" dy="4.9" fill="#141414" stroke="#141414" stroke-width="0.4">5</text>
<text transform="translate(646.0,1329.0) rotate(-90)" font-family="&quot;Liberation Sans&quot;, sans-serif" font-size="19.7" font-style="italic" font-weight="normal" textLength="70.1" lengthAdjust="spacingAndGlyphs" fill="#141414" stroke="#141414" stroke-width="0.25" >NOTE:</text>
<text transform="translate(646.0,1252.0) rotate(-90)" font-family="&quot;Liberation Sans&quot;, sans-serif" font-size="19.7" font-style="italic" font-weight="normal" textLength="35.4" lengthAdjust="spacingAndGlyphs" fill="#141414" stroke="#141414" stroke-width="0.25" >ALL</text>
<text transform="translate(646.0,1208.2) rotate(-90)" font-family="&quot;Liberation Sans&quot;, sans-serif" font-size="19.7" font-style="italic" font-weight="normal" textLength="116.7" lengthAdjust="spacingAndGlyphs" fill="#141414" stroke="#141414" stroke-width="0.25" >DIAMETERS</text>
<text transform="translate(646.0,1076.4) rotate(-90)" font-family="&quot;Liberation Sans&quot;, sans-serif" font-size="19.7" font-style="italic" font-weight="normal" textLength="25.8" lengthAdjust="spacingAndGlyphs" fill="#141414" stroke="#141414" stroke-width="0.25" >TO</text>
<text transform="translate(646.0,1035.5) rotate(-90)" font-family="&quot;Liberation Sans&quot;, sans-serif" font-size="19.7" font-style="italic" font-weight="normal" textLength="30.3" lengthAdjust="spacingAndGlyphs" fill="#141414" stroke="#141414" stroke-width="0.25" >BE</text>
<text transform="translate(664.7,1326.4) rotate(-90)" font-family="&quot;Liberation Sans&quot;, sans-serif" font-size="18.1" font-style="italic" font-weight="normal" textLength="142.7" lengthAdjust="spacingAndGlyphs" fill="#141414" stroke="#141414" stroke-width="0.25" >CONCENTRIC</text>
<text transform="translate(664.7,1174.4) rotate(-90)" font-family="&quot;Liberation Sans&quot;, sans-serif" font-size="18.1" font-style="italic" font-weight="normal" textLength="25.3" lengthAdjust="spacingAndGlyphs" fill="#141414" stroke="#141414" stroke-width="0.25" >TO</text>
<text transform="translate(664.7,1130.5) rotate(-90)" font-family="&quot;Liberation Sans&quot;, sans-serif" font-size="18.1" font-style="italic" font-weight="normal" textLength="27.0" lengthAdjust="spacingAndGlyphs" fill="#141414" stroke="#141414" stroke-width="0.25" >Ø</text>
<text transform="translate(664.7,1093.0) rotate(-90)" font-family="&quot;Liberation Sans&quot;, sans-serif" font-size="18.1" font-style="italic" font-weight="normal" textLength="25.7" lengthAdjust="spacingAndGlyphs" fill="#141414" stroke="#141414" stroke-width="0.25" >"A"</text>
<text transform="translate(664.7,1067.3) rotate(-90)" font-family="&quot;Liberation Sans&quot;, sans-serif" font-size="18.1" font-style="italic" font-weight="normal" textLength="71.3" lengthAdjust="spacingAndGlyphs" fill="#141414" stroke="#141414" stroke-width="0.25" >WITHIN</text>
<text transform="translate(664.7,991.5) rotate(-90)" font-family="&quot;Liberation Sans&quot;, sans-serif" font-size="18.1" font-style="italic" font-weight="normal" textLength="57.6" lengthAdjust="spacingAndGlyphs" fill="#141414" stroke="#141414" stroke-width="0.25" >.0005</text>
<text transform="translate(686.5,1326.4) rotate(-90)" font-family="&quot;Liberation Sans&quot;, sans-serif" font-size="18.6" font-style="normal" font-weight="normal" textLength="13.5" lengthAdjust="spacingAndGlyphs" fill="#141414" stroke="#141414" stroke-width="0.25" >±</text>
<text transform="translate(686.5,1311.2) rotate(-90)" font-family="&quot;Liberation Sans&quot;, sans-serif" font-size="18.6" font-style="italic" font-weight="normal" textLength="52.3" lengthAdjust="spacingAndGlyphs" fill="#141414" stroke="#141414" stroke-width="0.25" >.005</text>
<text transform="translate(686.5,1252.0) rotate(-90)" font-family="&quot;Liberation Sans&quot;, sans-serif" font-size="18.6" font-style="italic" font-weight="normal" textLength="28.6" lengthAdjust="spacingAndGlyphs" fill="#141414" stroke="#141414" stroke-width="0.25" >ON</text>
<text transform="translate(686.5,1215.0) rotate(-90)" font-family="&quot;Liberation Sans&quot;, sans-serif" font-size="18.6" font-style="italic" font-weight="normal" textLength="33.8" lengthAdjust="spacingAndGlyphs" fill="#141414" stroke="#141414" stroke-width="0.25" >ALL</text>
<text transform="translate(686.5,1174.4) rotate(-90)" font-family="&quot;Liberation Sans&quot;, sans-serif" font-size="18.6" font-style="italic" font-weight="normal" textLength="132.9" lengthAdjust="spacingAndGlyphs" fill="#141414" stroke="#141414" stroke-width="0.25" >FRACTIONAL</text>
<text transform="translate(686.5,1026.4) rotate(-90)" font-family="&quot;Liberation Sans&quot;, sans-serif" font-size="18.6" font-style="italic" font-weight="normal" textLength="125.0" lengthAdjust="spacingAndGlyphs" fill="#141414" stroke="#141414" stroke-width="0.25" >DIMENSIONS</text>
<text transform="translate(709.6,1326.4) rotate(-90)" font-family="&quot;Liberation Sans&quot;, sans-serif" font-size="19.6" font-style="italic" font-weight="normal" textLength="70.9" lengthAdjust="spacingAndGlyphs" fill="#141414" stroke="#141414" stroke-width="0.25" >BREAK</text>
<text transform="translate(709.6,1247.0) rotate(-90)" font-family="&quot;Liberation Sans&quot;, sans-serif" font-size="19.6" font-style="italic" font-weight="normal" textLength="77.6" lengthAdjust="spacingAndGlyphs" fill="#141414" stroke="#141414" stroke-width="0.25" >SHARP</text>
<text transform="translate(709.6,1160.9) rotate(-90)" font-family="&quot;Liberation Sans&quot;, sans-serif" font-size="19.6" font-style="italic" font-weight="normal" textLength="65.9" lengthAdjust="spacingAndGlyphs" fill="#141414" stroke="#141414" stroke-width="0.25" >EDGES</text>
<circle cx="399.8" cy="1153.6" r="108.4" fill="none" stroke-width="2.0"/>
<circle cx="399.8" cy="1153.6" r="91.2" fill="none" stroke-width="1.7" stroke-dasharray="10,4.3"/>
<circle cx="399.8" cy="1153.6" r="56.2" fill="none" stroke-width="2.0"/>
<circle cx="399.8" cy="1153.6" r="47.0" fill="none" stroke-width="1.7" stroke-dasharray="7,3.2"/>
<circle cx="399.8" cy="1153.6" r="41.2" fill="none" stroke-width="2.0"/>
<circle cx="399.8" cy="1153.6" r="35.8" fill="none" stroke-width="2.0"/>
<line x1="268.1" y1="1153.4" x2="312.6" y2="1153.4" stroke-width="1.3" />
<line x1="316.3" y1="1153.4" x2="325.5" y2="1153.4" stroke-width="1.3" />
<line x1="329.0" y1="1153.4" x2="339.0" y2="1153.4" stroke-width="1.3" />
<line x1="343.0" y1="1153.4" x2="388.0" y2="1153.4" stroke-width="1.3" />
<line x1="392.0" y1="1153.4" x2="396.0" y2="1153.4" stroke-width="1.3" />
<line x1="401.0" y1="1153.4" x2="403.0" y2="1153.4" stroke-width="1.3" />
<line x1="407.0" y1="1153.4" x2="452.0" y2="1153.4" stroke-width="1.3" />
<line x1="456.0" y1="1153.4" x2="466.0" y2="1153.4" stroke-width="1.3" />
<line x1="469.0" y1="1153.4" x2="479.0" y2="1153.4" stroke-width="1.3" />
<line x1="483.0" y1="1153.4" x2="522.3" y2="1153.4" stroke-width="1.3" />
<line x1="399.7" y1="1032.3" x2="399.7" y2="1078.0" stroke-width="1.3" />
<line x1="399.7" y1="1082.0" x2="399.7" y2="1091.0" stroke-width="1.3" />
<line x1="399.7" y1="1095.0" x2="399.7" y2="1104.0" stroke-width="1.3" />
<line x1="399.7" y1="1108.0" x2="399.7" y2="1149.0" stroke-width="1.3" />
<line x1="399.7" y1="1152.0" x2="399.7" y2="1155.0" stroke-width="1.3" />
<line x1="399.7" y1="1159.0" x2="399.7" y2="1200.0" stroke-width="1.3" />
<line x1="399.7" y1="1204.0" x2="399.7" y2="1213.0" stroke-width="1.3" />
<line x1="399.7" y1="1217.0" x2="399.7" y2="1226.0" stroke-width="1.3" />
<line x1="399.7" y1="1230.0" x2="399.7" y2="1276.5" stroke-width="1.3" />
<polyline points="270.5,775.0 270.0,756.0" fill="none" stroke-width="1.2" />
<path d="M269.5,756 C255,690 250,590 292.7,506.8" fill="none" stroke-width="1.2" />
<path d="M292.9,506.5 L291.0,513.5 Q290.1,515.2 288.4,514.3 Q286.8,513.4 287.8,511.6 Z" fill="#141414" stroke="none"/>
<path d="M269.5,756 C282,715 300,672 345.3,671" fill="none" stroke-width="1.2" />
<path d="M345.6,671.0 L338.6,673.0 Q336.6,673.1 336.6,671.2 Q336.6,669.3 338.5,669.2 Z" fill="#141414" stroke="none"/>
<text transform="translate(740.9,156.2) rotate(-90)" font-family="&quot;Liberation Sans&quot;, sans-serif" font-size="7.6" font-style="normal" font-weight="bold" textLength="44.9" lengthAdjust="spacingAndGlyphs" fill="#141414" stroke="#141414" stroke-width="0.55" >MFG'S OF</text>
<text transform="translate(775.2,160.5) rotate(-90)" font-family="&quot;Liberation Sans&quot;, sans-serif" font-size="8.3" font-style="normal" font-weight="bold" textLength="55.5" lengthAdjust="spacingAndGlyphs" fill="#141414" stroke="#141414" stroke-width="0.55" >EQUIPMENT</text>
<text transform="translate(763.6,193.3) rotate(-90)" font-family="&quot;Liberation Serif&quot;, sans-serif" font-size="32.2" font-style="italic" font-weight="bold" textLength="28.0" lengthAdjust="spacingAndGlyphs" fill="#141414" stroke="#141414" stroke-width="0.55" >S</text>
<text transform="translate(762,170.1) rotate(-90) skewX(-8)" font-family="&quot;Liberation Serif&quot;, serif" font-size="19.5" font-style="italic" font-weight="bold" textLength="80" lengthAdjust="spacingAndGlyphs" fill="#141414" stroke="#141414" stroke-width="0.6">uperwrapper</text>
<circle cx="755.9" cy="82.4" r="1.2" fill="#141414" stroke="none"/>
<text transform="translate(748.7,404.6) rotate(-90)" font-family="&quot;Liberation Sans&quot;, sans-serif" font-size="22.6" font-style="normal" font-weight="normal" textLength="158.7" lengthAdjust="spacingAndGlyphs" fill="#141414" stroke="#141414" stroke-width="0.6" >TOLEDO SCALE</text>
<text transform="translate(755.7,413.4) rotate(-90)" font-family="&quot;Liberation Sans&quot;, sans-serif" font-size="6.3" font-style="normal" font-weight="bold" textLength="31.6" lengthAdjust="spacingAndGlyphs" fill="#141414" stroke="#141414" stroke-width="0.55" >DIVISION OF</text>
<text transform="translate(756.6,381.0) rotate(-90)" font-family="&quot;Liberation Sans&quot;, sans-serif" font-size="10.0" font-style="italic" font-weight="bold" textLength="71.0" lengthAdjust="spacingAndGlyphs" fill="#141414" stroke="#141414" stroke-width="0.55" >RELIANCE</text>
<text transform="translate(756.6,307.3) rotate(-90)" font-family="&quot;Liberation Sans&quot;, sans-serif" font-size="6.3" font-style="normal" font-weight="bold" textLength="74.6" lengthAdjust="spacingAndGlyphs" fill="#141414" stroke="#141414" stroke-width="0.55" >ELECTRIC COMPANY</text>
<path d="M743.4,229.2 L757.5,229.2 L757.5,211.7 L743.4,214.5 Z" fill="#141414" stroke="none"/>
<rect x="746.5" y="214" width="6" height="6" fill="#fff" stroke="#141414" stroke-width="1"/>
<text transform="translate(767.1,370.4) rotate(-90)" font-family="&quot;Liberation Sans&quot;, sans-serif" font-size="8.7" font-style="normal" font-weight="bold" textLength="92.9" lengthAdjust="spacingAndGlyphs" fill="#141414" stroke="#141414" stroke-width="0.55" >WRAPPING MACHINERY PLANT</text>
<text transform="translate(776.8,402.9) rotate(-90)" font-family="&quot;Liberation Sans&quot;, sans-serif" font-size="12.6" font-style="normal" font-weight="bold" textLength="156.1" lengthAdjust="spacingAndGlyphs" fill="#141414" stroke="#141414" stroke-width="0.55" >FRANKSVILLE, WISCONSIN 53126</text>
<line x1="777.3" y1="402.9" x2="777.3" y2="343.2" stroke-width="1.0" />
<text transform="translate(787.6,441.5) rotate(-90)" font-family="&quot;Liberation Sans&quot;, sans-serif" font-size="7.9" font-style="normal" font-weight="bold" textLength="25.5" lengthAdjust="spacingAndGlyphs" fill="#141414" stroke="#141414" stroke-width="0.55" >TITLE</text>
<text transform="translate(814.5,376.1) rotate(-90)" font-family="&quot;Liberation Sans&quot;, sans-serif" font-size="24.6" font-style="italic" font-weight="normal" textLength="104.1" lengthAdjust="spacingAndGlyphs" fill="#141414" stroke="none" >PISTON</text>
<text transform="translate(837.9,442.2) rotate(-90)" font-family="&quot;Liberation Sans&quot;, sans-serif" font-size="8.9" font-style="normal" font-weight="bold" textLength="44.1" lengthAdjust="spacingAndGlyphs" fill="#141414" stroke="#141414" stroke-width="0.55" >DRAWN BY</text>
<text transform="translate(849.0,394.7) rotate(-90)" font-family="&quot;Liberation Sans&quot;, sans-serif" font-size="15.9" font-style="italic" font-weight="normal" textLength="33.1" lengthAdjust="spacingAndGlyphs" fill="#141414" stroke="none" >HAG</text>
<text transform="translate(838.6,341.6) rotate(-90)" font-family="&quot;Liberation Sans&quot;, sans-serif" font-size="8.9" font-style="normal" font-weight="bold" textLength="26.8" lengthAdjust="spacingAndGlyphs" fill="#141414" stroke="#141414" stroke-width="0.55" >SCALE</text>
<text transform="translate(848.3,313.4) rotate(-90)" font-family="&quot;Liberation Sans&quot;, sans-serif" font-size="14.9" font-style="italic" font-weight="normal" textLength="48.9" lengthAdjust="spacingAndGlyphs" fill="#141414" stroke="none" >FULL</text>
<text transform="translate(840.0,240.0) rotate(-90)" font-family="&quot;Liberation Sans&quot;, sans-serif" font-size="9.3" font-style="normal" font-weight="bold" textLength="43.1" lengthAdjust="spacingAndGlyphs" fill="#141414" stroke="#141414" stroke-width="0.55" >MATERIAL</text>
<text transform="translate(849.6,193.6) rotate(-90)" font-family="&quot;Liberation Sans&quot;, sans-serif" font-size="19.6" font-style="italic" font-weight="normal" textLength="80.5" lengthAdjust="spacingAndGlyphs" fill="#141414" stroke="none" >l0l8 CRS</text>
<text transform="translate(859.3,442.2) rotate(-90)" font-family="&quot;Liberation Sans&quot;, sans-serif" font-size="8.9" font-style="normal" font-weight="bold" textLength="40.6" lengthAdjust="spacingAndGlyphs" fill="#141414" stroke="#141414" stroke-width="0.55" >CHECKED</text>
<text transform="translate(868.9,398.8) rotate(-90)" font-family="&quot;Liberation Sans&quot;, sans-serif" font-size="16.7" font-style="normal" font-weight="normal" textLength="27.6" lengthAdjust="spacingAndGlyphs" fill="#141414" stroke="none" >BB</text>
<text transform="translate(860.0,341.6) rotate(-90)" font-family="&quot;Liberation Sans&quot;, sans-serif" font-size="8.9" font-style="normal" font-weight="bold" textLength="54.4" lengthAdjust="spacingAndGlyphs" fill="#141414" stroke="#141414" stroke-width="0.55" >DRAWING NO</text>
<text transform="translate(885.8,331.8) rotate(-90)" font-family="&quot;Liberation Sans&quot;, sans-serif" font-size="25.1" font-style="normal" font-weight="normal" textLength="170.4" lengthAdjust="spacingAndGlyphs" fill="#141414" stroke="none" >A799050000A</text>
<text transform="translate(879.3,442.2) rotate(-90)" font-family="&quot;Liberation Sans&quot;, sans-serif" font-size="8.9" font-style="normal" font-weight="bold" textLength="28.2" lengthAdjust="spacingAndGlyphs" fill="#141414" stroke="#141414" stroke-width="0.55" >APP'D.</text>
<path d="M874.3,383.3 Q880,391 883.6,397 L890.9,401.4 M874.3,390.5 L883.6,396.9 M889.6,384.8 Q889,394 883.9,397 M873,397.3 Q877,396 879.4,401 L891.5,406.4 M879.4,401 Q877,405 878.3,408 Q882,415 891.5,418.1" fill="none" stroke-width="1.4" />
<text transform="translate(735.3,640.9) rotate(-90)" font-family="&quot;Liberation Sans&quot;, sans-serif" font-size="9.1" font-style="normal" font-weight="bold" textLength="22.5" lengthAdjust="spacingAndGlyphs" fill="#141414" stroke="#141414" stroke-width="0.55" >DATE</text>
<text transform="translate(748.2,616.8) rotate(-90)" font-family="&quot;Liberation Sans&quot;, sans-serif" font-size="15.0" font-style="italic" font-weight="normal" textLength="35.5" lengthAdjust="spacingAndGlyphs" fill="#141414" stroke="#141414" stroke-width="0.25" >l-l0</text>
<text transform="translate(736.1,533.0) rotate(-90)" font-family="&quot;Liberation Sans&quot;, sans-serif" font-size="10.3" font-style="normal" font-weight="bold" textLength="47.5" lengthAdjust="spacingAndGlyphs" fill="#141414" stroke="#141414" stroke-width="0.55" >NO. REQ'D.</text>
<line x1="747.4" y1="500.3" x2="740.1" y2="490.1" stroke-width="1.7" />
<text transform="translate(761.9,640.9) rotate(-90)" font-family="&quot;Liberation Sans&quot;, sans-serif" font-size="10.4" font-style="normal" font-weight="bold" textLength="83.7" lengthAdjust="spacingAndGlyphs" fill="#141414" stroke="#141414" stroke-width="0.55" >MACHINE USED ON.</text>
<text transform="translate(795.7,642.5) rotate(-90)" font-family="&quot;Liberation Sans&quot;, sans-serif" font-size="10.4" font-style="normal" font-weight="bold" textLength="72.5" lengthAdjust="spacingAndGlyphs" fill="#141414" stroke="#141414" stroke-width="0.55" >REFER TO ASSY.</text>
<text transform="translate(811.8,636.0) rotate(-90)" font-family="&quot;Liberation Sans&quot;, sans-serif" font-size="20.7" font-style="italic" font-weight="normal" textLength="115.0" lengthAdjust="spacingAndGlyphs" fill="#141414" stroke="#141414" stroke-width="0.25" >A79948l00A</text>
<text transform="translate(823.0,574.9) rotate(-90)" font-family="&quot;Liberation Sans&quot;, sans-serif" font-size="8.0" font-style="normal" font-weight="bold" textLength="60.4" lengthAdjust="spacingAndGlyphs" fill="#141414" stroke="#141414" stroke-width="0.55" >TOLERANCES</text>
<text transform="translate(832.7,618.4) rotate(-90)" font-family="&quot;Liberation Sans&quot;, sans-serif" font-size="8.1" font-style="normal" font-weight="bold" textLength="143.4" lengthAdjust="spacingAndGlyphs" fill="#141414" stroke="#141414" stroke-width="0.55" >UNLESS OTHERWISE SPECIFIED</text>
<text transform="translate(848.0,640.9) rotate(-90)" font-family="&quot;Liberation Sans&quot;, sans-serif" font-size="10.3" font-style="normal" font-weight="bold" textLength="186.7" lengthAdjust="spacingAndGlyphs" fill="#141414" stroke="#141414" stroke-width="0.55" >± 1/64 ON ALL FRACTIONAL DIMENSIONS</text>
<text transform="translate(857.7,640.9) rotate(-90)" font-family="&quot;Liberation Sans&quot;, sans-serif" font-size="10.4" font-style="normal" font-weight="bold" textLength="178.7" lengthAdjust="spacingAndGlyphs" fill="#141414" stroke="#141414" stroke-width="0.55" >± .010 ON ALL FRACTIONAL MACHINED</text>
<text transform="translate(867.3,632.9) rotate(-90)" font-family="&quot;Liberation Sans&quot;, sans-serif" font-size="6.9" font-style="normal" font-weight="bold" textLength="58.0" lengthAdjust="spacingAndGlyphs" fill="#141414" stroke="#141414" stroke-width="0.55" >DIMENSIONS</text>
<text transform="translate(878.6,640.9) rotate(-90)" font-family="&quot;Liberation Sans&quot;, sans-serif" font-size="9.4" font-style="normal" font-weight="bold" textLength="167.4" lengthAdjust="spacingAndGlyphs" fill="#141414" stroke="#141414" stroke-width="0.55" >± .002 ON ALL DECIMAL DIMENSIONS</text>
<text transform="translate(889.0,640.9) rotate(-90)" font-family="&quot;Liberation Sans&quot;, sans-serif" font-size="9.1" font-style="normal" font-weight="bold" textLength="186.7" lengthAdjust="spacingAndGlyphs" fill="#141414" stroke="#141414" stroke-width="0.55" >± 1/2 DEGREE ON ANGULAR DIMENSIONS</text>
<polygon points="743.3,865.7 743.3,883.0 728.0,874.4" fill="none" stroke-width="2.0" />
<text transform="translate(737.5,874.4) rotate(-90)" font-family="&quot;Liberation Sans&quot;, sans-serif" font-size="8.3" text-anchor="middle" dy="2.9" fill="#141414" stroke="#141414" stroke-width="0.4">7</text>
<polygon points="764.3,865.7 764.3,883.0 749.1,874.4" fill="none" stroke-width="2.0" />
<text transform="translate(758.5,874.4) rotate(-90)" font-family="&quot;Liberation Sans&quot;, sans-serif" font-size="8.3" text-anchor="middle" dy="2.9" fill="#141414" stroke="#141414" stroke-width="0.4">6</text>
<polygon points="784.5,865.7 784.5,883.0 770.1,874.4" fill="none" stroke-width="2.0" />
<text transform="translate(779.0,874.4) rotate(-90)" font-family="&quot;Liberation Sans&quot;, sans-serif" font-size="7.8" text-anchor="middle" dy="2.7" fill="#141414" stroke="#141414" stroke-width="0.4">5</text>
<polygon points="805.5,865.7 805.5,883.0 790.3,874.4" fill="none" stroke-width="2.0" />
<text transform="translate(799.7,874.4) rotate(-90)" font-family="&quot;Liberation Sans&quot;, sans-serif" font-size="8.3" text-anchor="middle" dy="2.9" fill="#141414" stroke="#141414" stroke-width="0.4">4</text>
<polygon points="826.1,865.7 826.1,883.0 811.3,874.4" fill="none" stroke-width="2.0" />
<text transform="translate(820.5,874.4) rotate(-90)" font-family="&quot;Liberation Sans&quot;, sans-serif" font-size="8.0" text-anchor="middle" dy="2.8" fill="#141414" stroke="#141414" stroke-width="0.4">3</text>
<polygon points="846.7,865.7 846.7,883.0 831.9,874.4" fill="none" stroke-width="2.0" />
<text transform="translate(841.1,874.4) rotate(-90)" font-family="&quot;Liberation Sans&quot;, sans-serif" font-size="8.0" text-anchor="middle" dy="2.8" fill="#141414" stroke="#141414" stroke-width="0.4">2</text>
<polygon points="868.2,865.7 868.2,883.0 852.5,874.4" fill="none" stroke-width="2.0" />
<text transform="translate(862.2,874.4) rotate(-90)" font-family="&quot;Liberation Sans&quot;, sans-serif" font-size="8.5" text-anchor="middle" dy="3.0" fill="#141414" stroke="#141414" stroke-width="0.4">1</text>
<text transform="translate(884.0,883.0) rotate(-90)" font-family="&quot;Liberation Sans&quot;, sans-serif" font-size="11.9" font-style="normal" font-weight="bold" textLength="17.0" lengthAdjust="spacingAndGlyphs" fill="#141414" stroke="#141414" stroke-width="0.55" >NO.</text>
<text transform="translate(884.0,814.0) rotate(-90)" font-family="&quot;Liberation Sans&quot;, sans-serif" font-size="11.9" font-style="normal" font-weight="bold" textLength="41.4" lengthAdjust="spacingAndGlyphs" fill="#141414" stroke="#141414" stroke-width="0.55" >CHANGE</text>
<text transform="translate(884.0,717.5) rotate(-90)" font-family="&quot;Liberation Sans&quot;, sans-serif" font-size="11.9" font-style="normal" font-weight="bold" textLength="11.0" lengthAdjust="spacingAndGlyphs" fill="#141414" stroke="#141414" stroke-width="0.55" >BY</text>
<text transform="translate(884.8,685.7) rotate(-90)" font-family="&quot;Liberation Sans&quot;, sans-serif" font-size="12.9" font-style="normal" font-weight="bold" textLength="27.8" lengthAdjust="spacingAndGlyphs" fill="#141414" stroke="#141414" stroke-width="0.55" >DATE</text>
<text transform="translate(776.5,855.3) rotate(-90)" font-family="&quot;Liberation Sans&quot;, sans-serif" font-size="11.7" font-style="normal" font-weight="normal" textLength="48.2" lengthAdjust="spacingAndGlyphs" fill="#141414" stroke="#141414" stroke-width="0.25" >ADDED</text>
<text transform="translate(785.5,856.7) rotate(-90)" font-family="&quot;Liberation Sans&quot;, sans-serif" font-size="11.9" font-style="normal" font-weight="normal" textLength="119.9" lengthAdjust="spacingAndGlyphs" fill="#141414" stroke="#141414" stroke-width="0.25" >POLISH SMOOTH</text>
<text transform="translate(786.2,724.4) rotate(-90)" font-family="&quot;Liberation Sans&quot;, sans-serif" font-size="16.7" font-style="normal" font-weight="normal" textLength="24.8" lengthAdjust="spacingAndGlyphs" fill="#141414" stroke="#141414" stroke-width="0.25" >ME</text>
<text transform="translate(783.6,693.7) rotate(-90)" font-family="&quot;Liberation Sans&quot;, sans-serif" font-size="14.1" font-style="normal" font-weight="normal" textLength="24.1" lengthAdjust="spacingAndGlyphs" fill="#141414" stroke="#141414" stroke-width="0.25" >3-2</text>
<text transform="translate(797.9,856.7) rotate(-90)" font-family="&quot;Liberation Sans&quot;, sans-serif" font-size="13.9" font-style="normal" font-weight="normal" textLength="24.8" lengthAdjust="spacingAndGlyphs" fill="#141414" stroke="#141414" stroke-width="0.25" >WAS</text>
<text transform="translate(796.5,823.6) rotate(-90)" font-family="&quot;Liberation Sans&quot;, sans-serif" font-size="10.9" font-style="normal" font-weight="normal" textLength="32.4" lengthAdjust="spacingAndGlyphs" fill="#141414" stroke="#141414" stroke-width="0.25" >2.608</text>
<text transform="translate(806.1,825.7) rotate(-90)" font-family="&quot;Liberation Sans&quot;, sans-serif" font-size="12.7" font-style="normal" font-weight="normal" textLength="39.3" lengthAdjust="spacingAndGlyphs" fill="#141414" stroke="#141414" stroke-width="0.25" >2.598</text>
<text transform="translate(807.5,726.5) rotate(-90)" font-family="&quot;Liberation Sans&quot;, sans-serif" font-size="17.7" font-style="normal" font-weight="normal" textLength="28.2" lengthAdjust="spacingAndGlyphs" fill="#141414" stroke="#141414" stroke-width="0.25" >ME</text>
<text transform="translate(804.2,693.7) rotate(-90)" font-family="&quot;Liberation Sans&quot;, sans-serif" font-size="15.4" font-style="normal" font-weight="normal" textLength="24.1" lengthAdjust="spacingAndGlyphs" fill="#141414" stroke="#141414" stroke-width="0.25" >2-9</text>
<text transform="translate(818.5,856.7) rotate(-90)" font-family="&quot;Liberation Sans&quot;, sans-serif" font-size="13.7" font-style="normal" font-weight="normal" textLength="26.2" lengthAdjust="spacingAndGlyphs" fill="#141414" stroke="#141414" stroke-width="0.25" >WAS</text>
<text transform="translate(817.9,800.2) rotate(-90)" font-family="&quot;Liberation Sans&quot;, sans-serif" font-size="11.9" font-style="normal" font-weight="normal" textLength="38.6" lengthAdjust="spacingAndGlyphs" fill="#141414" stroke="#141414" stroke-width="0.25" >1.355</text>
<text transform="translate(827.5,798.8) rotate(-90)" font-family="&quot;Liberation Sans&quot;, sans-serif" font-size="12.9" font-style="normal" font-weight="normal" textLength="38.6" lengthAdjust="spacingAndGlyphs" fill="#141414" stroke="#141414" stroke-width="0.25" >1.345</text>
<text transform="translate(825.4,724.4) rotate(-90)" font-family="&quot;Liberation Sans&quot;, sans-serif" font-size="13.7" font-style="normal" font-weight="normal" textLength="24.8" lengthAdjust="spacingAndGlyphs" fill="#141414" stroke="#141414" stroke-width="0.25" >ME</text>
<text transform="translate(823.9,693.7) rotate(-90)" font-family="&quot;Liberation Sans&quot;, sans-serif" font-size="14.0" font-style="normal" font-weight="normal" textLength="24.1" lengthAdjust="spacingAndGlyphs" fill="#141414" stroke="#141414" stroke-width="0.25" >2-2</text>
<text transform="translate(846.8,858.7) rotate(-90)" font-family="&quot;Liberation Sans&quot;, sans-serif" font-size="16.9" font-style="italic" font-weight="normal" textLength="29.6" lengthAdjust="spacingAndGlyphs" fill="#141414" stroke="#141414" stroke-width="0.25" >WAS</text>
<text transform="translate(838.5,814.0) rotate(-90)" font-family="&quot;Liberation Sans&quot;, sans-serif" font-size="11.9" font-style="italic" font-weight="normal" textLength="41.4" lengthAdjust="spacingAndGlyphs" fill="#141414" stroke="#141414" stroke-width="0.25" >l.373</text>
<text transform="translate(848.2,819.5) rotate(-90)" font-family="&quot;Liberation Sans&quot;, sans-serif" font-size="15.9" font-style="italic" font-weight="normal" textLength="44.1" lengthAdjust="spacingAndGlyphs" fill="#141414" stroke="#141414" stroke-width="0.25" >l.372</text>
<text transform="translate(848.2,726.5) rotate(-90)" font-family="&quot;Liberation Sans&quot;, sans-serif" font-size="19.7" font-style="italic" font-weight="normal" textLength="26.9" lengthAdjust="spacingAndGlyphs" fill="#141414" stroke="#141414" stroke-width="0.25" >RB</text>
<text transform="translate(848.1,693.7) rotate(-90)" font-family="&quot;Liberation Sans&quot;, sans-serif" font-size="19.3" font-style="italic" font-weight="normal" textLength="24.1" lengthAdjust="spacingAndGlyphs" fill="#141414" stroke="#141414" stroke-width="0.25" >l-l4</text>
<text transform="translate(868.5,858.7) rotate(-90)" font-family="&quot;Liberation Sans&quot;, sans-serif" font-size="19.3" font-style="italic" font-weight="normal" textLength="29.6" lengthAdjust="spacingAndGlyphs" fill="#141414" stroke="#141414" stroke-width="0.25" >WAS</text>
<text transform="translate(858.5,814.0) rotate(-90)" font-family="&quot;Liberation Sans&quot;, sans-serif" font-size="12.9" font-style="italic" font-weight="normal" textLength="46.9" lengthAdjust="spacingAndGlyphs" fill="#141414" stroke="#141414" stroke-width="0.25" >2.638</text>
<text transform="translate(868.8,822.2) rotate(-90)" font-family="&quot;Liberation Sans&quot;, sans-serif" font-size="14.7" font-style="italic" font-weight="normal" textLength="53.7" lengthAdjust="spacingAndGlyphs" fill="#141414" stroke="#141414" stroke-width="0.25" >2.637</text>
<text transform="translate(868.5,726.5) rotate(-90)" font-family="&quot;Liberation Sans&quot;, sans-serif" font-size="19.3" font-style="italic" font-weight="normal" textLength="26.9" lengthAdjust="spacingAndGlyphs" fill="#141414" stroke="#141414" stroke-width="0.25" >RB</text>
<text transform="translate(868.5,693.7) rotate(-90)" font-family="&quot;Liberation Sans&quot;, sans-serif" font-size="19.3" font-style="italic" font-weight="normal" textLength="24.1" lengthAdjust="spacingAndGlyphs" fill="#141414" stroke="#141414" stroke-width="0.25" >l-l4</text>
<text transform="translate(897.8,1364.6) rotate(-90)" font-family="&quot;Liberation Sans&quot;, sans-serif" font-size="6.9" font-style="normal" font-weight="bold" textLength="112.3" lengthAdjust="spacingAndGlyphs" fill="#141414" stroke="#141414" stroke-width="0.5" >RACINE BLUEPRINT &#160;&#160;199M</text>
</svg></body></html>
